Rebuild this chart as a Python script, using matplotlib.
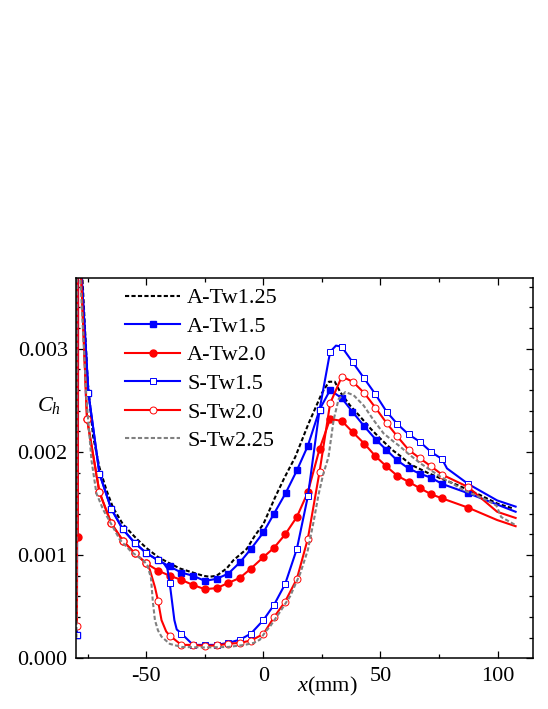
import numpy as np
import matplotlib.pyplot as plt
from matplotlib.ticker import MultipleLocator, FormatStrFormatter

plt.rcParams['font.family'] = ['Liberation Serif', 'DejaVu Serif']
plt.rcParams['mathtext.fontset'] = 'custom'
plt.rcParams['mathtext.rm'] = 'Liberation Serif'
plt.rcParams['mathtext.it'] = 'Liberation Serif:italic'
plt.rcParams['axes.unicode_minus'] = False

# ---- data (x in mm, Ch) ----
# marker points
x_a15 = [-79.6, -74.7, -70, -65, -60, -55, -50, -45, -40, -35, -30, -25, -20, -15, -10, -5.3,
         0, 4.5, 9.5, 14.3, 19, 24, 28.5, 33.5, 38, 43, 48, 52.5, 57, 62, 66.7, 71.6, 76.3, 87.4]
y_a15 = [0.00023, 0.00257, 0.00179, 0.00145, 0.00125, 0.00112, 0.00102, 0.00095, 0.00089, 0.00083,
         0.0008, 0.00075, 0.00077, 0.00082, 0.00093, 0.00106, 0.00122, 0.0014, 0.0016, 0.00182,
         0.00206, 0.00241, 0.0026, 0.00252, 0.00239, 0.00225, 0.00212, 0.00202, 0.00192, 0.00184,
         0.00179, 0.00175, 0.00169, 0.0016]
# points on the line between markers
xe_a15 = [-79.4, -77.6, 99.8, 107.7]
ye_a15 = [0.005, 0.0037, 0.00149, 0.00142]

x_a20 = [-79.2, -75.3, -70, -65, -60, -55, -50, -45, -40, -35, -30, -25, -20, -15, -10, -5.3,
         0, 4.5, 9.3, 14.3, 19, 24, 28.5, 33.5, 38.2, 43.1, 47.8, 52.5, 57.1, 62, 66.7, 71.6, 76.3, 87.4]
y_a20 = [0.00118, 0.00232, 0.00161, 0.00131, 0.00114, 0.00102, 0.00092, 0.00085, 0.0008, 0.00076,
         0.00071, 0.00067, 0.00068, 0.00073, 0.00078, 0.00087, 0.00098, 0.00107, 0.0012, 0.00137,
         0.00161, 0.00203, 0.00232, 0.0023, 0.00219, 0.00208, 0.00196, 0.00186, 0.00177, 0.00171,
         0.00165, 0.00159, 0.00155, 0.00146]
xe_a20 = [-79.0, -77.8, 99.8, 107.7]
ye_a20 = [0.005, 0.0037, 0.00134, 0.00128]

x_s15 = [-79.6, -74.7, -70, -65, -60, -55, -50, -45, -40, -35, -30, -25, -20, -15, -10, -5.3,
         0, 4.6, 9.3, 14.3, 19, 24, 28.5, 33.4, 38.1, 42.8, 47.8, 52.6, 57.2, 62, 66.7, 71.6, 76.3, 87.4]
y_s15 = [0.00023, 0.00257, 0.00179, 0.00145, 0.00125, 0.00112, 0.00102, 0.00095, 0.00073, 0.00024,
         0.00013, 0.00013, 0.00013, 0.00015, 0.00018, 0.00024, 0.00037, 0.00052, 0.00072, 0.00106,
         0.00157, 0.00241, 0.00297, 0.00302, 0.00287, 0.00272, 0.00256, 0.00239, 0.00227, 0.00217,
         0.0021, 0.002, 0.00193, 0.00169]
xe_s15 = [-79.4, -77.6, -42.5, -41, -39, -38, -37, 31, 78.4, 99.8, 107.7]
ye_s15 = [0.005, 0.0037, 0.00092, 0.00087, 0.00055, 0.00037, 0.00028, 0.00303, 0.00184, 0.00153, 0.00147]

x_s20 = [-79.6, -75.3, -70, -65, -60, -55, -50, -45, -40, -35, -30, -25, -20, -15, -10, -5.3,
         0, 4.6, 9.3, 14.3, 19, 24, 28.5, 33.5, 38.2, 43.1, 47.8, 52.6, 57.2, 62, 66.7, 71.6, 76.3, 87.4]
y_s20 = [0.00031, 0.00232, 0.00161, 0.00131, 0.00114, 0.00102, 0.00092, 0.00056, 0.00022, 0.00013,
         0.00013, 0.00012, 0.000125, 0.00014, 0.00015, 0.000172, 0.000235, 0.0004, 0.00055, 0.00077,
         0.00116, 0.00181, 0.00247, 0.00273, 0.00268, 0.00257, 0.00243, 0.00228, 0.00215, 0.00202,
         0.00194, 0.00186, 0.00178, 0.00166]
xe_s20 = [-79.4, -77.8, -48.5, -46.3, -43.5, -41.5, 99.8, 107.7]
ye_s20 = [0.005, 0.0037, 0.00086, 0.00069, 0.00037, 0.00026, 0.00142, 0.00136]

# dashed curves (no markers)
x_a125 = [-79.7, -79.5, -77.3, -75, -72.7, -70, -67, -64.2, -60, -54.2, -50, -44.9, -40, -35.6, -30,
          -25.7, -23, -20, -15.7, -12.8, -7.1, -3.6, 0, 5, 9, 13.6, 19.2, 25, 28, 30.5, 32.8, 37, 41.4,
          46, 49.9, 55, 58.5, 62.7, 69.9, 76, 82.7, 92.7, 99.8, 106.9]
y_a125 = [0.0002, 0.005, 0.0037, 0.00268, 0.00215, 0.00185, 0.00163, 0.00146, 0.0013, 0.00116, 0.00107,
          0.00098, 0.00092, 0.00087, 0.00083, 0.0008, 0.00079, 0.0008, 0.00087, 0.00095, 0.00106, 0.00119,
          0.0013, 0.00156, 0.00175, 0.00195, 0.00227, 0.00257, 0.00268, 0.00268, 0.00258, 0.00245, 0.00234,
          0.00222, 0.00213, 0.00202, 0.00196, 0.00188, 0.0018, 0.00174, 0.00168, 0.00158, 0.0015, 0.00145]

x_s225 = [-79.8, -79.6, -78.2, -75.5, -73.4, -71.3, -68.4, -64.2, -61.3, -56.3, -51.3, -49.5, -48, -47.2,
          -46.3, -45, -43.5, -40, -35, -25, -15, -8, -4, -1.5, 1, 2.9, 7.1, 11.4, 15.7, 19, 21.5, 23.5,
          25.5, 27.8, 30, 32.1, 35, 38.5, 42.8, 47, 51.3, 55.6, 58.5, 62, 67, 75.6, 85.5, 95.6, 99.5,
          101.5, 107.7]
y_s225 = [0.0002, 0.005, 0.0037, 0.0025, 0.00192, 0.0016, 0.00144, 0.00127, 0.00115, 0.00103, 0.00095,
          0.0009, 0.00078, 0.00055, 0.00037, 0.00027, 0.00021, 0.00014, 0.00011, 0.000105, 0.00011,
          0.00013, 0.00015, 0.00018, 0.00026, 0.00031, 0.00045, 0.0006, 0.00082, 0.00105, 0.00133,
          0.00158, 0.00178, 0.00195, 0.00231, 0.00251, 0.00258, 0.00255, 0.00245, 0.00231, 0.00218,
          0.0021, 0.00205, 0.00198, 0.00189, 0.00176, 0.00163, 0.00153, 0.00148, 0.00137, 0.00129]

labels = ['A-Tw1.25', 'A-Tw1.5', 'A-Tw2.0', 'S-Tw1.5', 'S-Tw2.0', 'S-Tw2.25']


def merge(xm, ym, xe, ye):
    # join marker points and in-between points, remember where the markers are
    x = np.concatenate([xm, xe])
    y = np.concatenate([ym, ye])
    is_mk = np.r_[np.ones(len(xm), bool), np.zeros(len(xe), bool)]
    order = np.argsort(x, kind='stable')
    return x[order], y[order], [int(i) for i in np.where(is_mk[order])[0]]


fig = plt.figure(figsize=(5.48, 7.09), dpi=100)
ax = fig.add_axes([0.1387, 0.0715, 0.8334, 0.5371])

lw = 1.5
ax.plot(x_a125, y_a125, color='black', lw=lw, dashes=(2.0, 1.1), label=labels[0])

x, y, mk = merge(x_a15, y_a15, xe_a15, ye_a15)
ax.plot(x, y, color='#0000ff', lw=lw, marker='s', ms=4.3, mfc='#0000ff', mec='#0000ff',
        markevery=mk, label=labels[1])

x, y, mk = merge(x_a20, y_a20, xe_a20, ye_a20)
ax.plot(x, y, color='#ff0000', lw=lw, marker='o', ms=5, mfc='#ff0000', mec='#ff0000',
        markevery=mk, label=labels[2])

x, y, mk = merge(x_s15, y_s15, xe_s15, ye_s15)
ax.plot(x, y, color='#0000ff', lw=lw, marker='s', ms=4.6, mfc='white', mec='#0000ff', mew=0.7,
        markevery=mk, label=labels[3])

x, y, mk = merge(x_s20, y_s20, xe_s20, ye_s20)
ax.plot(x, y, color='#ff0000', lw=lw, marker='o', ms=5, mfc='white', mec='#ff0000', mew=0.7,
        markevery=mk, label=labels[4])

ax.plot(x_s225, y_s225, color='#808080', lw=lw, dashes=(2.0, 1.1), label=labels[5])

ax.set_xlim(-80, 115)
ax.set_ylim(0, 0.00369)

ax.xaxis.set_major_locator(MultipleLocator(50))
ax.xaxis.set_minor_locator(MultipleLocator(25))
ax.yaxis.set_major_locator(MultipleLocator(0.001))
ax.yaxis.set_minor_locator(MultipleLocator(0.0002))
ax.yaxis.set_major_formatter(FormatStrFormatter('%.3f'))

ax.tick_params(which='both', direction='in', top=True, right=True, width=0.9, labelsize=16)
ax.tick_params(which='major', length=5, pad=6)
ax.tick_params(which='minor', length=3)
for s in ax.spines.values():
    s.set_linewidth(1.1)

ax.set_xlabel('$x$(mm)', fontsize=16)
ax.xaxis.set_label_coords(0.55, -0.044)
ax.text(-0.06, 0.665, '$C_h$', transform=ax.transAxes, fontsize=16, ha='center', va='center')

ax.legend(loc='upper left', bbox_to_anchor=(0.107, 0.973), frameon=False, fontsize=16,
          handlelength=2.5, handletextpad=0.3, labelspacing=0.36, borderpad=0, borderaxespad=0)

fig.savefig('out.png', dpi=100)
